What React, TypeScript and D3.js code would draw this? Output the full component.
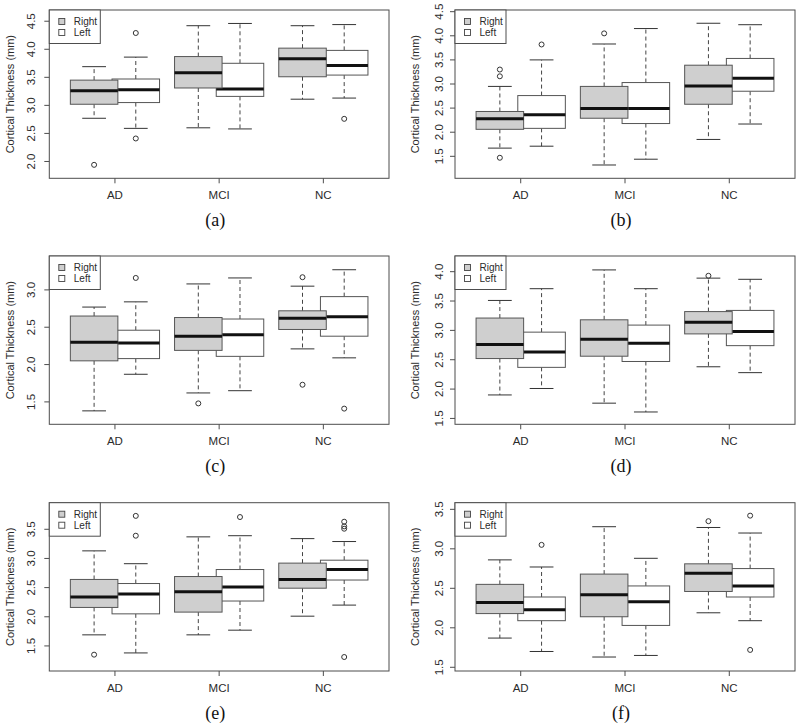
import React from "react";
import * as d3 from "d3";

const groups = ["AD", "MCI", "NC"];
const sides = ["Right", "Left"];
const captions = ["(a)", "(b)", "(c)", "(d)", "(e)", "(f)"];
const yTitle = "Cortical Thickness (mm)";

// stats per group: [lower whisker, Q1, median, Q3, upper whisker]
const aRight = [[2.77, 3.02, 3.26, 3.45, 3.69], [2.60, 3.31, 3.58, 3.87, 4.42], [3.11, 3.51, 3.83, 4.02, 4.42]];
const aLeft = [[2.59, 3.05, 3.28, 3.47, 3.86], [2.58, 3.16, 3.29, 3.75, 4.46], [3.13, 3.54, 3.71, 3.98, 4.44]];
const aRightOut = [[1.94], [], []];
const aLeftOut = [[4.29, 2.41], [], [2.76]];

const bRight = [[1.67, 2.06, 2.28, 2.43, 2.95], [1.32, 2.29, 2.49, 2.95, 3.83], [1.85, 2.58, 2.96, 3.39, 4.26]];
const bLeft = [[1.71, 2.08, 2.36, 2.76, 3.50], [1.44, 2.18, 2.49, 3.03, 4.15], [2.17, 2.85, 3.12, 3.53, 4.23]];
const bRightOut = [[3.30, 3.16, 1.47], [4.05], []];
const bLeftOut = [[3.82], [], []];

const cRight = [[1.38, 2.05, 2.30, 2.65, 2.77], [1.62, 2.19, 2.38, 2.63, 3.08], [2.21, 2.47, 2.62, 2.72, 3.05]];
const cLeft = [[1.87, 2.08, 2.29, 2.46, 2.84], [1.65, 2.11, 2.40, 2.61, 3.16], [2.09, 2.38, 2.64, 2.91, 3.27]];
const cRightOut = [[], [1.48], [3.17, 1.73]];
const cLeftOut = [[3.16], [], [1.41]];

const dRight = [[1.90, 2.52, 2.76, 3.21, 3.51], [1.76, 2.56, 2.85, 3.18, 4.03], [2.38, 2.94, 3.14, 3.32, 3.89]];
const dLeft = [[2.01, 2.37, 2.63, 2.97, 3.71], [1.61, 2.47, 2.78, 3.09, 3.71], [2.28, 2.74, 2.98, 3.34, 3.87]];
const dRightOut = [[], [], [3.93]];
const dLeftOut = [[], [], []];

const eRight = [[1.69, 2.16, 2.34, 2.64, 3.13], [1.69, 2.08, 2.43, 2.69, 3.37], [2.01, 2.49, 2.64, 2.92, 3.34]];
const eLeft = [[1.38, 2.05, 2.39, 2.57, 2.91], [1.77, 2.27, 2.51, 2.81, 3.39], [2.20, 2.63, 2.81, 2.97, 3.29]];
const eRightOut = [[1.35], [], []];
const eLeftOut = [[3.73, 3.39], [3.71], [3.63, 3.55, 3.51, 1.31]];

const fRight = [[1.87, 2.18, 2.32, 2.55, 2.86], [1.63, 2.14, 2.42, 2.68, 3.28], [2.19, 2.46, 2.69, 2.81, 3.27]];
const fLeft = [[1.70, 2.09, 2.23, 2.39, 2.77], [1.65, 2.03, 2.33, 2.53, 2.88], [2.09, 2.39, 2.53, 2.75, 3.20]];
const fRightOut = [[], [], [3.35]];
const fLeftOut = [[3.05], [], [3.42, 1.72]];

const yTicksA = [2.0, 2.5, 3.0, 3.5, 4.0, 4.5];
const yTicksB = [1.5, 2.0, 2.5, 3.0, 3.5, 4.0, 4.5];
const yTicksC = [1.5, 2.0, 2.5, 3.0];
const yTicksD = [1.5, 2.0, 2.5, 3.0, 3.5, 4.0];
const yTicksE = [1.5, 2.0, 2.5, 3.0, 3.5];
const yTicksF = [1.5, 2.0, 2.5, 3.0, 3.5];

const panels = [
  { right: aRight, left: aLeft, rightOut: aRightOut, leftOut: aLeftOut, ticks: yTicksA, yDomain: [1.70, 4.70], col: 0, row: 0 },
  { right: bRight, left: bLeft, rightOut: bRightOut, leftOut: bLeftOut, ticks: yTicksB, yDomain: [1.044, 4.535], col: 1, row: 0 },
  { right: cRight, left: cLeft, rightOut: cRightOut, leftOut: cLeftOut, ticks: yTicksC, yDomain: [1.20, 3.454], col: 0, row: 1 },
  { right: dRight, left: dLeft, rightOut: dRightOut, leftOut: dLeftOut, ticks: yTicksD, yDomain: [1.40, 4.267], col: 1, row: 1 },
  { right: eRight, left: eLeft, rightOut: eRightOut, leftOut: eLeftOut, ticks: yTicksE, yDomain: [1.07, 3.956], col: 0, row: 2 },
  { right: fRight, left: fLeft, rightOut: fRightOut, leftOut: fLeftOut, ticks: yTicksF, yDomain: [1.453, 3.584], col: 1, row: 2 },
];

const colX = [
  { left: 49.3, right: 389, tickLabelX: 30.8, titleX: 13.5 },
  { left: 455, right: 795, tickLabelX: 439.2, titleX: 419 },
];
const rowY = [
  { top: 10, bottom: 178.3 },
  { top: 256, bottom: 424.3 },
  { top: 502.7, bottom: 671 },
];

const SANS = "'Liberation Sans', Arial, Helvetica, sans-serif";
const SERIF = "'Liberation Serif', 'Times New Roman', serif";
const GRAY_FILL = "#cfcfcf";
const FRAME = "#4d4d4d";
const BOX_STROKE = "#555555";
const TEXT = "#2b2b2b";

function BoxSet({ stats, outs, pos, x, y, fill }) {
  const half = 0.228;
  const cap = 0.114;
  return (
    <g>
      {stats.map((s, i) => {
        const c = i + 1 + pos;
        const [lo, q1, med, q3, hi] = s;
        const xc = x(c);
        return (
          <g key={i}>
            <line x1={xc} x2={xc} y1={y(q3)} y2={y(hi)} stroke="#444" strokeWidth={1} strokeDasharray="4,3" />
            <line x1={xc} x2={xc} y1={y(q1)} y2={y(lo)} stroke="#444" strokeWidth={1} strokeDasharray="4,3" />
            <line x1={x(c - cap)} x2={x(c + cap)} y1={y(hi)} y2={y(hi)} stroke="#333" strokeWidth={1} />
            <line x1={x(c - cap)} x2={x(c + cap)} y1={y(lo)} y2={y(lo)} stroke="#333" strokeWidth={1} />
            <rect x={x(c - half)} y={y(q3)} width={x(c + half) - x(c - half)} height={y(q1) - y(q3)} fill={fill} stroke={BOX_STROKE} strokeWidth={1} />
            <line x1={x(c - half)} x2={x(c + half)} y1={y(med)} y2={y(med)} stroke="#111" strokeWidth={3} />
            {outs[i].map((o, j) => (
              <circle key={j} cx={xc} cy={y(o)} r={2.5} fill="none" stroke="#333" strokeWidth={1} />
            ))}
          </g>
        );
      })}
    </g>
  );
}

function Panel({ p, idx }) {
  const cx = colX[p.col];
  const ry = rowY[p.row];
  const x = d3.scaleLinear().domain([0.37, 3.63]).range([cx.left, cx.right]);
  const y = d3.scaleLinear().domain(p.yDomain).range([ry.bottom, ry.top]);
  const midY = (ry.top + ry.bottom) / 2;
  const capX = (cx.left + cx.right) / 2 - 4;
  return (
    <g>
      <BoxSet stats={p.left} outs={p.leftOut} pos={0.2} x={x} y={y} fill="#ffffff" />
      <BoxSet stats={p.right} outs={p.rightOut} pos={-0.2} x={x} y={y} fill={GRAY_FILL} />
      <rect x={cx.left} y={ry.top} width={cx.right - cx.left} height={ry.bottom - ry.top} fill="none" stroke={FRAME} strokeWidth={1} />
      {p.ticks.map((t) => (
        <g key={t}>
          <line x1={cx.left - 5} x2={cx.left} y1={y(t)} y2={y(t)} stroke={FRAME} strokeWidth={1} />
          <text transform={`translate(${cx.tickLabelX + 4},${y(t)}) rotate(-90)`} textAnchor="middle" fontFamily={SANS} fontSize={11.5} fill={TEXT}>
            {t.toFixed(1)}
          </text>
        </g>
      ))}
      <text transform={`translate(${cx.titleX},${midY}) rotate(-90)`} textAnchor="middle" fontFamily={SANS} fontSize={11} fill={TEXT}>
        {yTitle}
      </text>
      {groups.map((g, i) => (
        <g key={g}>
          <line x1={x(i + 1)} x2={x(i + 1)} y1={ry.bottom} y2={ry.bottom + 5} stroke={FRAME} strokeWidth={1} />
          <text x={x(i + 1)} y={ry.bottom + 21} textAnchor="middle" fontFamily={SANS} fontSize={11.5} fill={TEXT}>
            {g}
          </text>
        </g>
      ))}
      <rect x={cx.left} y={ry.top} width={51} height={33.5} fill="#fff" stroke={FRAME} strokeWidth={1} />
      {sides.map((s, i) => (
        <g key={s}>
          <rect x={cx.left + 9.5} y={ry.top + 8.5 + i * 11} width={6} height={6} fill={i === 0 ? GRAY_FILL : "#fff"} stroke="#444" strokeWidth={0.9} />
          <text x={cx.left + 24.5} y={ry.top + 15 + i * 11} fontFamily={SANS} fontSize={10} fill={TEXT}>
            {s}
          </text>
        </g>
      ))}
      <text x={capX} y={ry.bottom + 48} textAnchor="middle" fontFamily={SERIF} fontSize={18} fill="#111">
        {captions[idx]}
      </text>
    </g>
  );
}

export default function App() {
  return (
    <svg width={800} height={728} style={{ position: "absolute", left: 0, top: 0, background: "#fff" }}>
      <rect x={0} y={0} width={800} height={728} fill="#fff" />
      {panels.map((p, i) => (
        <Panel key={i} p={p} idx={i} />
      ))}
    </svg>
  );
}
